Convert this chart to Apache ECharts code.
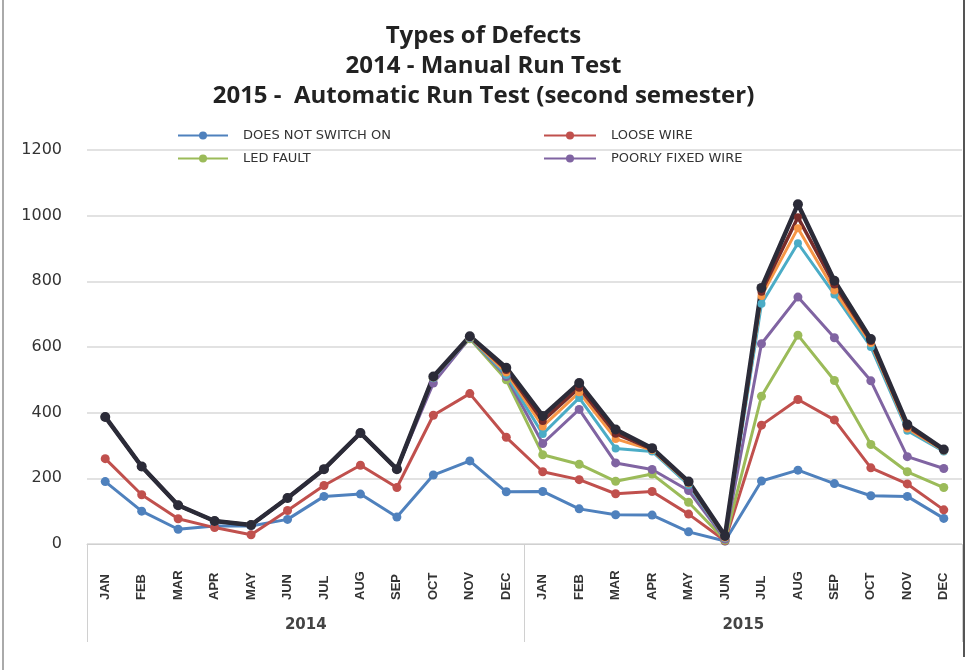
<!DOCTYPE html>
<html>
<head>
<meta charset="utf-8">
<script src="https://cdn.jsdelivr.net/npm/echarts@6/dist/echarts.min.js"></script>
<style>html,body{margin:0;padding:0;background:#fff}#c{width:967px;height:670px}</style>
</head>
<body>
<div id="c"></div>
<script>
var months = ["JAN","FEB","MAR","APR","MAY","JUN","JUL","AUG","SEP","OCT","NOV","DEC",
              "JAN","FEB","MAR","APR","MAY","JUN","JUL","AUG","SEP","OCT","NOV","DEC"];
var years = ["2014","2015"];
var yTicks = [0, 200, 400, 600, 800, 1000, 1200];

var doesNotSwitchOn = [190,100,45,55,55,75,145,152,82,210,253,159, 160,107,89,88,37,9,192,225,184,147,145,78];
var looseWire       = [260,150,77,50,28,102,178,240,172,392,458,325, 220,196,153,160,91,10,362,440,378,232,183,104];
var ledFault        = [387,236,118,70,58,140,228,338,228,505,625,500, 272,243,191,213,127,12,450,636,498,303,220,172];
var poorlyFixedWire = [387,236,118,70,58,140,228,338,228,490,628,510, 306,410,247,227,163,15,610,752,628,497,266,230];
var seriesE         = [387,236,118,70,58,140,228,338,228,505,628,515, 335,445,291,282,180,18,732,916,760,600,345,282];
var seriesF         = [387,236,118,70,58,140,228,338,228,507,630,522, 358,462,320,286,185,20,755,962,772,612,352,285];
var seriesG         = [387,236,118,70,58,140,228,338,228,509,631,530, 375,476,336,289,188,22,768,995,790,618,358,287];
var seriesH         = [387,236,118,70,58,140,228,338,228,510,633,537, 390,490,349,292,190,25,780,1035,802,624,364,288];

var chart = echarts.init(document.getElementById('c'), null, {renderer: 'canvas'});

function mk(name, data, color, width, size) {
  return {
    name: name, type: 'line', data: data,
    symbol: 'circle', symbolSize: size, showSymbol: true,
    lineStyle: {color: color, width: width},
    itemStyle: {color: color},
    animation: false
  };
}

var legendText = {fontFamily: 'DejaVu Sans', fontSize: 13, color: '#333', padding: [0,0,0,10]};

chart.setOption({
  backgroundColor: '#fff',
  animation: false,
  title: {
    text: 'Types of Defects\n2014 - Manual Run Test\n2015 -  Automatic Run Test (second semester)',
    left: 'center', top: 16,
    textStyle: {fontFamily: 'Open Sans', fontWeight: 'bold', fontSize: 24, lineHeight: 30, color: '#222'}
  },
  legend: [
    {data: ['DOES NOT SWITCH ON', 'LED FAULT'], orient: 'vertical', left: 172, top: 124,
     itemWidth: 50, itemHeight: 10, itemGap: 10, textStyle: legendText},
    {data: ['LOOSE WIRE', 'POORLY FIXED WIRE'], orient: 'vertical', left: 538, top: 124,
     itemWidth: 52, itemHeight: 10, itemGap: 10, textStyle: legendText}
  ],
  grid: {left: 87, right: 5, top: 150, bottom: 126, containLabel: false},
  xAxis: [
    {type: 'category', data: months, position: 'bottom', boundaryGap: true,
     axisLine: {show: true, lineStyle: {color: '#d0d0d0', width: 1}},
     axisTick: {show: false},
     axisLabel: {rotate: 90, align: 'left', margin: 56, interval: 0,
                 fontFamily: '"Liberation Sans Narrow", "Liberation Sans", sans-serif',
                 fontWeight: 'bold', fontSize: 13, color: '#333', verticalAlign: 'middle'},
     splitLine: {show: false}},
    {type: 'category', data: years, position: 'bottom', boundaryGap: true,
     axisLine: {show: false},
     axisTick: {show: true, interval: 0, length: 98, lineStyle: {color: '#d0d0d0', width: 1}},
     axisLabel: {margin: 74, fontFamily: 'DejaVu Sans', fontWeight: 'bold', fontSize: 15, color: '#444'},
     splitLine: {show: false}}
  ],
  yAxis: {
    type: 'value', min: 0, max: 1200, interval: 200,
    axisLine: {show: false}, axisTick: {show: false},
    axisLabel: {margin: 25, fontFamily: 'DejaVu Sans', fontSize: 16, color: '#333',
                formatter: function (v) { return yTicks.indexOf(v) >= 0 ? String(v) : ''; }},
    splitLine: {lineStyle: {color: '#d9d9d9', width: 1.5}}
  },
  graphic: [
    {type: 'line', shape: {x1: 3, y1: 0, x2: 3, y2: 670}, style: {stroke: '#aaa', lineWidth: 2}, silent: true},
    {type: 'line', shape: {x1: 964, y1: 0, x2: 964, y2: 657}, style: {stroke: '#555', lineWidth: 2}, silent: true}
  ],
  series: [
    mk('DOES NOT SWITCH ON', doesNotSwitchOn, '#4F81BD', 3, 9),
    mk('LOOSE WIRE', looseWire, '#C0504D', 3, 9),
    mk('LED FAULT', ledFault, '#9BBB59', 3, 9),
    mk('POORLY FIXED WIRE', poorlyFixedWire, '#8064A2', 3, 9),
    mk('SERIES E', seriesE, '#4BACC6', 3, 8),
    mk('SERIES F', seriesF, '#F79646', 3, 8),
    mk('SERIES G', seriesG, '#772C2A', 3.5, 8),
    mk('SERIES H', seriesH, '#2B2B38', 4.5, 10)
  ]
});
</script>
</body>
</html>
